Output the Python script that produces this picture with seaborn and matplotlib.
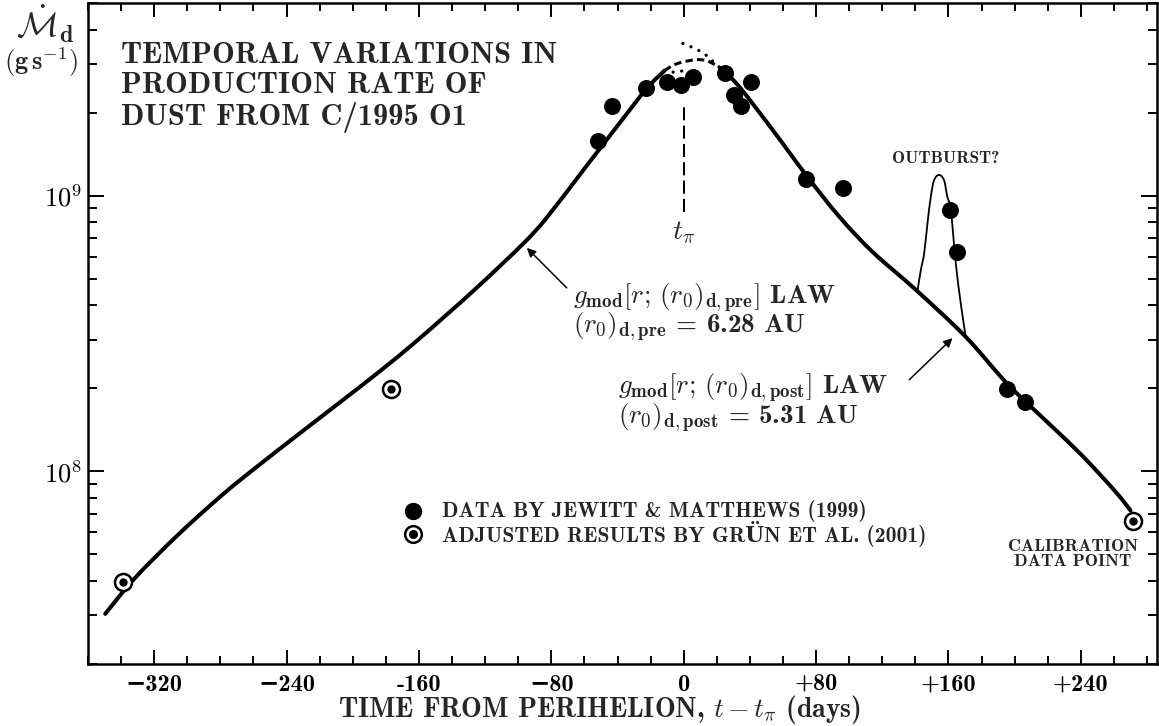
import matplotlib
matplotlib.use("Agg")
import matplotlib.pyplot as plt
import numpy as np
import seaborn as sns
from matplotlib.path import Path
from matplotlib.patches import PathPatch
from matplotlib.ticker import FixedLocator, FixedFormatter, NullFormatter

sns.set_theme(style="ticks")
BOLD = ["cmb10", "DejaVu Serif"]
plt.rcParams["font.family"] = BOLD
plt.rcParams["font.weight"] = "bold"
plt.rcParams["mathtext.fontset"] = "cm"
plt.rcParams["axes.unicode_minus"] = True

# Dust production rate of C/1995 O1, Jewitt & Matthews (1999)
jm_days = [-51.8, -43.6, -22.6, -10.2, -1.5, 5.5, 25.0, 30.6, 34.9, 40.7,
           73.9, 96.0, 161.0, 165.0, 195.2, 206.2]
jm_rate = [1.58e9, 2.12e9, 2.46e9, 2.59e9, 2.53e9, 2.70e9, 2.78e9, 2.32e9,
           2.12e9, 2.58e9, 1.15e9, 1.07e9, 8.87e8, 6.27e8, 1.99e8, 1.79e8]

# Adjusted results of Grün et al. (2001); the last one is the calibration point
gr_days = [-338.6, -176.8, 271.6]
gr_rate = [3.97e7, 1.99e8, 6.59e7]

# g_mod law, pre-perihelion branch
pre_days = [-349.6, -331.5, -305.4, -279.3, -259.1, -231.0, -206.9, -183.5,
            -163.4, -143.3, -123.2, -97.1, -83.0, -60.9, -40.7, -22.6, -11.6]
pre_rate = [3.04e7, 4.11e7, 5.90e7, 8.17e7, 1.026e8, 1.389e8, 1.796e8, 2.311e8,
            2.902e8, 3.699e8, 4.747e8, 6.690e8, 8.289e8, 1.233e9, 1.771e9,
            2.439e9, 2.842e9]

# g_mod law, post-perihelion branch
post_days = [23.6, 33.6, 53.8, 73.9, 94.0, 114.1, 140.3, 170.4, 195.5, 220.7,
             240.8, 260.9, 270.0]
post_rate = [2.854e9, 2.483e9, 1.730e9, 1.189e9, 8.393e8, 6.252e8, 4.553e8,
             3.076e8, 2.079e8, 1.489e8, 1.140e8, 8.44e7, 7.21e7]

# bridge across perihelion
peak_days = [-11.6, -6.6, -0.7, 7.5, 13.6, 19.6, 23.6]
peak_rate = [2.842e9, 2.976e9, 3.058e9, 3.120e9, 3.102e9, 2.976e9, 2.854e9]

# alternative bridge, discontinuous at perihelion
alt_pre_days = [-11.6, -5.5, -0.5]
alt_pre_rate = [2.842e9, 2.80e9, 2.838e9]
alt_post_days = [-0.5, 4.5, 9.5, 14.4, 18.6, 23.6]
alt_post_rate = [3.566e9, 3.467e9, 3.353e9, 3.208e9, 3.033e9, 2.854e9]

# outburst profile
ob_days = [141.2, 143.3, 145.3, 147.3, 149.3, 151.3, 154.3, 157.3, 159.3,
           161.4, 164.4, 167.4, 170.4]
ob_rate = [4.49e8, 5.38e8, 6.18e8, 7.94e8, 9.91e8, 1.138e9, 1.189e9, 1.138e9,
           9.91e8, 8.87e8, 5.69e8, 4.07e8, 3.076e8]

# extent of the perihelion marker
tpi_rate = [8.75e8, 2.19e9]

x_ticks = [-320, -240, -160, -80, 0, 80, 160, 240]
x_tick_labels = ["\u2212320", "\u2212240", "-160", "\u221280", "0", "+80", "+160", "+240"]
y_ticks = [1e8, 1e9]
y_tick_labels = [r"$\mathbf{10^{8}}$", r"$\mathbf{10^{9}}$"]

INK = "black"


def smooth_curve(ax, xs, ys, **kw):
    """Draw a smooth (Catmull-Rom) curve through the given knots."""
    pts = ax.transData.transform(np.column_stack([xs, ys]))
    n = len(pts)
    verts, codes = [pts[0]], [Path.MOVETO]
    for i in range(n - 1):
        p0, p1 = pts[max(i - 1, 0)], pts[i]
        p2, p3 = pts[i + 1], pts[min(i + 2, n - 1)]
        verts += [p1 + (p2 - p0) / 6.0, p2 - (p3 - p1) / 6.0, p2]
        codes += [Path.CURVE4] * 3
    verts = ax.transData.inverted().transform(np.array(verts))
    ax.add_patch(PathPatch(Path(verts, codes), fill=False, edgecolor=INK,
                           capstyle="round", joinstyle="round", **kw))


fig = plt.figure(figsize=(11.59, 7.26), dpi=100)
ax = fig.add_axes([88 / 1159, 62 / 726, 1069 / 1159, 661 / 726])
ax.set_yscale("log")
ax.set_xlim(-360, 286)
ax.set_ylim(2.0e7, 5.0e9)

# model curves
smooth_curve(ax, pre_days, pre_rate, lw=2.9)
smooth_curve(ax, post_days, post_rate, lw=2.9)
smooth_curve(ax, ob_days, ob_rate, lw=1.3)
sns.lineplot(x=peak_days, y=peak_rate, ax=ax, color=INK, lw=2.2, sort=False,
             estimator=None, linestyle=(0, (2.4, 1.4)))
for d, r in ((alt_pre_days, alt_pre_rate), (alt_post_days, alt_post_rate)):
    sns.lineplot(x=d, y=r, ax=ax, color=INK, lw=2.4, sort=False, estimator=None,
                 linestyle=(0, (0.01, 2.6)), dash_capstyle="round")

# perihelion time
sns.lineplot(x=[0, 0], y=tpi_rate, ax=ax, color=INK, lw=1.45, sort=False,
             estimator=None, linestyle=(0, (6.5, 2.6)))

# data points
sns.scatterplot(x=jm_days, y=jm_rate, ax=ax, color=INK, s=150, edgecolor=INK,
                linewidth=0, zorder=5)
sns.scatterplot(x=gr_days, y=gr_rate, ax=ax, facecolor="white", s=150,
                edgecolor=INK, linewidth=1.8, zorder=5)
sns.scatterplot(x=gr_days, y=gr_rate, ax=ax, color=INK, s=36, linewidth=0,
                zorder=6)

# axes styling
for sp in ax.spines.values():
    sp.set_visible(True)
    sp.set_linewidth(1.8)
    sp.set_color(INK)
ax.xaxis.set_major_locator(FixedLocator(x_ticks))
ax.xaxis.set_major_formatter(FixedFormatter(x_tick_labels))
ax.xaxis.set_minor_locator(FixedLocator(np.arange(-360, 287, 20)))
ax.yaxis.set_major_locator(FixedLocator(y_ticks))
ax.yaxis.set_major_formatter(FixedFormatter(y_tick_labels))
minor_y = [m * 10 ** e for e in (7, 8, 9) for m in range(2, 10)]
ax.yaxis.set_minor_locator(FixedLocator(minor_y))
ax.yaxis.set_minor_formatter(NullFormatter())
ax.tick_params(which="both", direction="in", top=True, right=True, colors=INK,
               width=1.4)
ax.tick_params(axis="x", which="major", length=10, labelsize=17.5, pad=7)
ax.tick_params(axis="x", which="minor", length=5.8)
ax.tick_params(axis="y", which="major", length=11.3, labelsize=19, pad=4)
ax.tick_params(axis="y", which="minor", length=6.7)
ax.grid(False)
ax.set_xlabel("")
ax.set_ylabel("")

# axis titles
fig.text(599 / 1159, 8.5 / 726, r"TIME FROM PERIHELION, $t\,{-}\,t_{\pi}$ (days)",
         ha="center", va="baseline", fontsize=20)
fig.text(45 / 1159, 1 - 24 / 726, r"$\dot{\mathcal{M}}_{\mathbf{d}}$",
         ha="center", va="center", fontsize=25)
fig.text(41 / 1159, 1 - 62 / 726, r"$\mathbf{(g\,s^{-1})}$",
         ha="center", va="center", fontsize=19)


def fy(py):
    return (664 - py) / 661


def fx(px):
    return (px - 88) / 1069


# heading
ax.text(fx(121), fy(42), "TEMPORAL VARIATIONS IN\nPRODUCTION RATE OF\nDUST FROM C/1995 O1",
        transform=ax.transAxes, fontsize=22, va="top", ha="left",
        linespacing=1.13)

# perihelion label
ax.text(0, 10 ** 8.8685, r"$t_{\pi}$", ha="center", va="center", fontsize=20)

# law labels with arrows (anchored at the baseline of their second line)
ax.annotate("", xy=(-94.8, 10 ** 8.8105), xytext=(-70.7, 10 ** 8.6656),
            arrowprops=dict(arrowstyle="-|>", color=INK, lw=1.1,
                            mutation_scale=13, shrinkA=0, shrinkB=0))
ax.text(-67.1, 10 ** 8.5025,
        r"$g_{\mathbf{mod}}[r;\,(r_{\mathbf{0}})_{\mathbf{d,pre}}]$ LAW" "\n"
        r"$(r_{\mathbf{0}})_{\mathbf{d,pre}}$ = 6.28 AU",
        fontsize=19.5, va="baseline", ha="left", linespacing=0.88)

ax.annotate("", xy=(162.4, 10 ** 8.4833), xytext=(136.3, 10 ** 8.3322),
            arrowprops=dict(arrowstyle="-|>", color=INK, lw=1.1,
                            mutation_scale=13, shrinkA=0, shrinkB=0))
ax.text(-40.0, 10 ** 8.1728,
        r"$g_{\mathbf{mod}}[r;\,(r_{\mathbf{0}})_{\mathbf{d,post}}]$ LAW" "\n"
        r"$(r_{\mathbf{0}})_{\mathbf{d,post}}$ = 5.31 AU",
        fontsize=19.5, va="baseline", ha="left", linespacing=0.9)

ax.text(125.9, 10 ** 9.1174, "OUTBURST?", fontsize=12.5, va="baseline", ha="left")
ax.text(235.0, 10 ** 7.6583, "CALIBRATION\nDATA POINT", fontsize=12.8,
        va="baseline", ha="center", linespacing=1.0)

# key
ax.plot([fx(413)], [fy(511)], "o", ms=11.5, color=INK, transform=ax.transAxes,
        clip_on=False)
ax.plot([fx(413)], [fy(534)], "o", ms=12, mfc="white", mec=INK, mew=1.8,
        transform=ax.transAxes, clip_on=False)
ax.plot([fx(413)], [fy(534)], "o", ms=5.5, color=INK, transform=ax.transAxes,
        clip_on=False)
ax.text(fx(442), fy(511), "DATA BY JEWITT & MATTHEWS (1999)", transform=ax.transAxes,
        fontsize=15.5, va="center", ha="left")
ax.text(fx(442), fy(534), "ADJUSTED RESULTS BY GRÜN ET AL. (2001)",
        transform=ax.transAxes, fontsize=15.5, va="center", ha="left")

fig.savefig("out.png", dpi=100, facecolor="white")
